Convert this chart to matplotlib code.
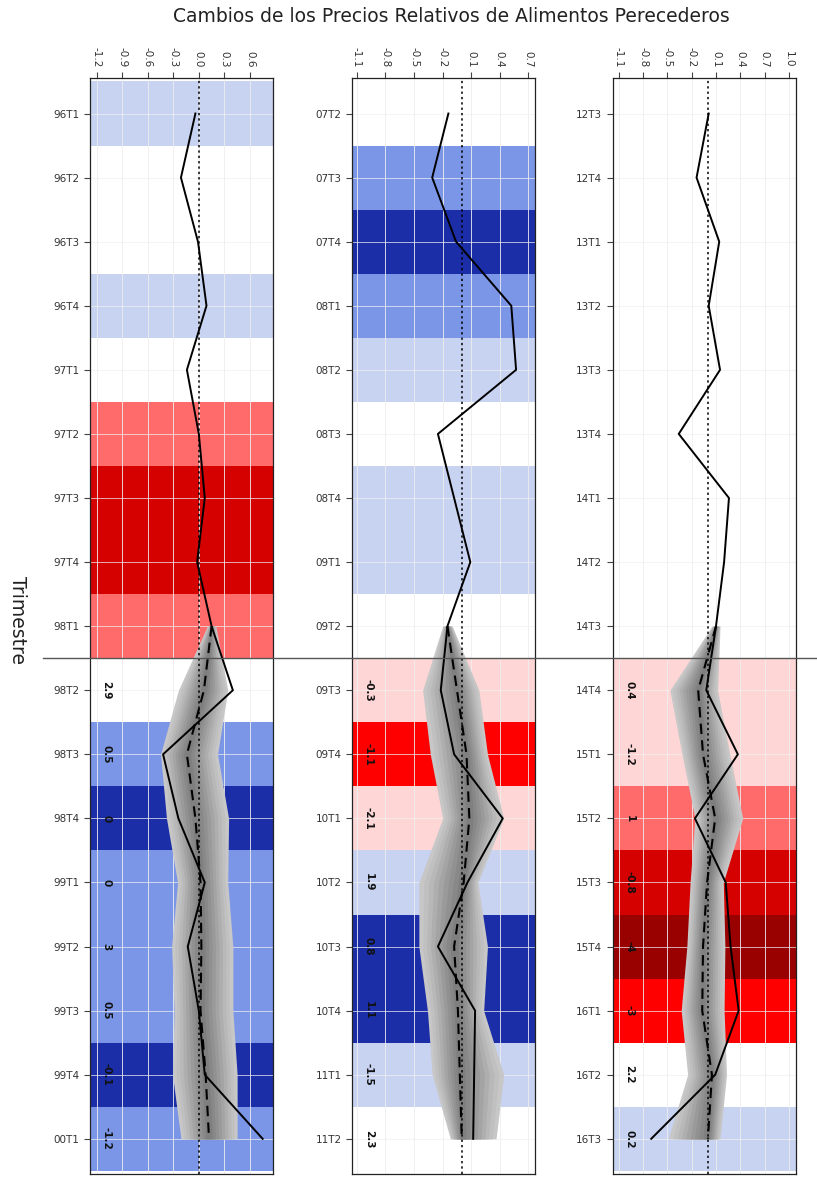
import numpy as np
import matplotlib.pyplot as plt
from matplotlib.lines import Line2D
from matplotlib.transforms import blended_transform_factory

# --- Datos: tres paneles de trimestres ---
trim1 = ["96T1", "96T2", "96T3", "96T4", "97T1", "97T2", "97T3", "97T4", "98T1",
         "98T2", "98T3", "98T4", "99T1", "99T2", "99T3", "99T4", "00T1"]
trim2 = ["07T2", "07T3", "07T4", "08T1", "08T2", "08T3", "08T4", "09T1", "09T2",
         "09T3", "09T4", "10T1", "10T2", "10T3", "10T4", "11T1", "11T2"]
trim3 = ["12T3", "12T4", "13T1", "13T2", "13T3", "13T4", "14T1", "14T2", "14T3",
         "14T4", "15T1", "15T2", "15T3", "15T4", "16T1", "16T2", "16T3"]

# cambio observado
obs1 = [-0.04, -0.21, -0.01, 0.09, -0.14, 0.00, 0.07, -0.02, 0.15,
        0.40, -0.42, -0.24, 0.07, -0.13, 0.00, 0.07, 0.75]
obs2 = [-0.14, -0.31, -0.06, 0.52, 0.57, -0.25, -0.08, 0.09, -0.15,
        -0.22, -0.08, 0.43, 0.06, -0.25, 0.14, 0.13, 0.12]
obs3 = [0.01, -0.14, 0.14, 0.01, 0.15, -0.36, 0.26, 0.20, 0.10,
        -0.02, 0.37, -0.16, 0.22, 0.28, 0.38, 0.09, -0.70]

# pronóstico (desde el último observado, índice 8)
inicio = 8
med1 = [0.15, 0.06, -0.14, -0.04, 0.02, 0.03, 0.02, 0.08, 0.12]
inf1 = [0.10, -0.24, -0.45, -0.38, -0.25, -0.32, -0.29, -0.31, -0.21]
sup1 = [0.20, 0.34, 0.22, 0.35, 0.34, 0.40, 0.40, 0.45, 0.45]

med2 = [-0.15, -0.05, 0.05, 0.08, 0.02, -0.08, -0.04, -0.02, 0.00]
inf2 = [-0.20, -0.41, -0.33, -0.20, -0.45, -0.45, -0.36, -0.31, -0.12]
sup2 = [-0.10, 0.18, 0.27, 0.44, 0.17, 0.27, 0.23, 0.44, 0.36]

med3 = [0.10, -0.12, -0.06, 0.09, -0.01, -0.06, -0.07, 0.05, 0.00]
inf3 = [0.05, -0.47, -0.32, -0.16, -0.22, -0.26, -0.33, -0.25, -0.49]
sup3 = [0.15, 0.12, 0.27, 0.43, 0.19, 0.21, 0.20, 0.23, 0.15]

# nivel de color de cada fila (-3 azul oscuro ... 0 blanco ... 5 rojo muy oscuro)
nivel1 = [-1, 0, 0, -1, 0, 2, 4, 4, 2, 0, -2, -3, -2, -2, -2, -3, -2]
nivel2 = [0, -2, -3, -2, -1, 0, -1, -1, 0, 1, 3, 1, -1, -3, -3, -1, 0]
nivel3 = [0, 0, 0, 0, 0, 0, 0, 0, 0, 1, 1, 2, 4, 5, 3, 0, -1]

# etiquetas numéricas en el tramo pronosticado
etq1 = ["2.9", "0.5", "0", "0", "3", "0.5", "-0.1", "-1.2"]
etq2 = ["-0.3", "-1.1", "-2.1", "1.9", "0.8", "1.1", "-1.5", "2.3"]
etq3 = ["0.4", "-1.2", "1", "-0.8", "-4", "-3", "2.2", "0.2"]

ticks1 = [-1.2, -0.9, -0.6, -0.3, 0.0, 0.3, 0.6]
ticks2 = [-1.1, -0.8, -0.5, -0.2, 0.1, 0.4, 0.7]
ticks3 = [-1.1, -0.8, -0.5, -0.2, 0.1, 0.4, 0.7, 1.0]

colores = {-3: "#1b2ea8", -2: "#7b96e7", -1: "#c7d3f1", 0: "#ffffff",
           1: "#ffd6d6", 2: "#ff6b6b", 3: "#ff0000", 4: "#d50000", 5: "#990000"}

paneles = [
    (trim1, obs1, med1, inf1, sup1, nivel1, etq1, ticks1, (-1.28, 0.87), 0.110),
    (trim2, obs2, med2, inf2, sup2, nivel2, etq2, ticks2, (-1.15, 0.77), 0.431),
    (trim3, obs3, med3, inf3, sup3, nivel3, etq3, ticks3, (-1.175, 1.085), 0.750),
]

fig = plt.figure(figsize=(8.17, 11.77), dpi=100)
grises = plt.cm.Greys(np.linspace(0.33, 0.58, 9))
fracs = np.linspace(1.0, 0.12, 9)

ejes = []
for trim, obs, med, inf, sup, nivel, etq, ticks, xlim, izq in paneles:
    ax = fig.add_axes([izq, 0.0025, 0.224, 0.931])
    ejes.append(ax)
    y = np.arange(len(trim))
    for yi, nv in zip(y, nivel):
        ax.axhspan(yi - 0.5, yi + 0.5, color=colores[nv], lw=0, zorder=0)
    for t in ticks:
        ax.axvline(t, color="#eeeeee", lw=0.6, zorder=1)
    for yi in y:
        ax.axhline(yi, color="#f0f0f0", lw=0.5, zorder=1)

    yf = y[inicio:]
    med = np.array(med); inf = np.array(inf); sup = np.array(sup)
    for f, c in zip(fracs, grises):
        ax.fill_betweenx(yf, med + f * (inf - med), med + f * (sup - med),
                         color=c, lw=0, zorder=2)
    ax.plot(med, yf, color="black", lw=1.5, ls=(0, (5, 3)), zorder=3)
    ax.axvline(0, color="black", lw=1.1, ls=(0, (1.5, 2)), zorder=3)
    ax.plot(obs, y, color="black", lw=1.4, zorder=4)

    for yi, t in zip(yf[1:], etq):
        ax.text(xlim[0] + 0.2 * (xlim[1] - xlim[0]) / 2.2, yi, t, rotation=270,
                ha="center", va="center", fontsize=7.5, fontweight="bold",
                color="#111111", zorder=5)

    ax.set_xlim(*xlim)
    ax.set_ylim(len(trim) - 0.45, -0.55)
    ax.set_yticks(y)
    ax.set_yticklabels(trim, fontsize=7.5, color="#333333")
    ax.set_xticks(ticks)
    ax.set_xticklabels([f"{t:.1f}" for t in ticks], rotation=270, fontsize=7.5,
                       color="#333333")
    ax.xaxis.tick_top()
    ax.tick_params(axis="both", direction="out", length=4, width=0.8, color="#444444")
    ax.tick_params(axis="x", pad=4)
    for s in ax.spines.values():
        s.set_color("#222222")
        s.set_linewidth(0.9)

# línea horizontal que separa observado y pronóstico
tr = blended_transform_factory(fig.transFigure, ejes[0].transData)
fig.add_artist(Line2D([0.053, 1.0], [inicio + 0.5, inicio + 0.5], transform=tr,
                      color="#555555", lw=1.0, zorder=10))

fig.text(0.552, 0.986, "Cambios de los Precios Relativos de Alimentos Perecederos",
         ha="center", va="center", fontsize=13.5, color="#222222")
fig.text(0.022, 0.473, "Trimestre", rotation=270, ha="center", va="center",
         fontsize=13.5, color="#222222")

fig.savefig("out.png", dpi=100)
